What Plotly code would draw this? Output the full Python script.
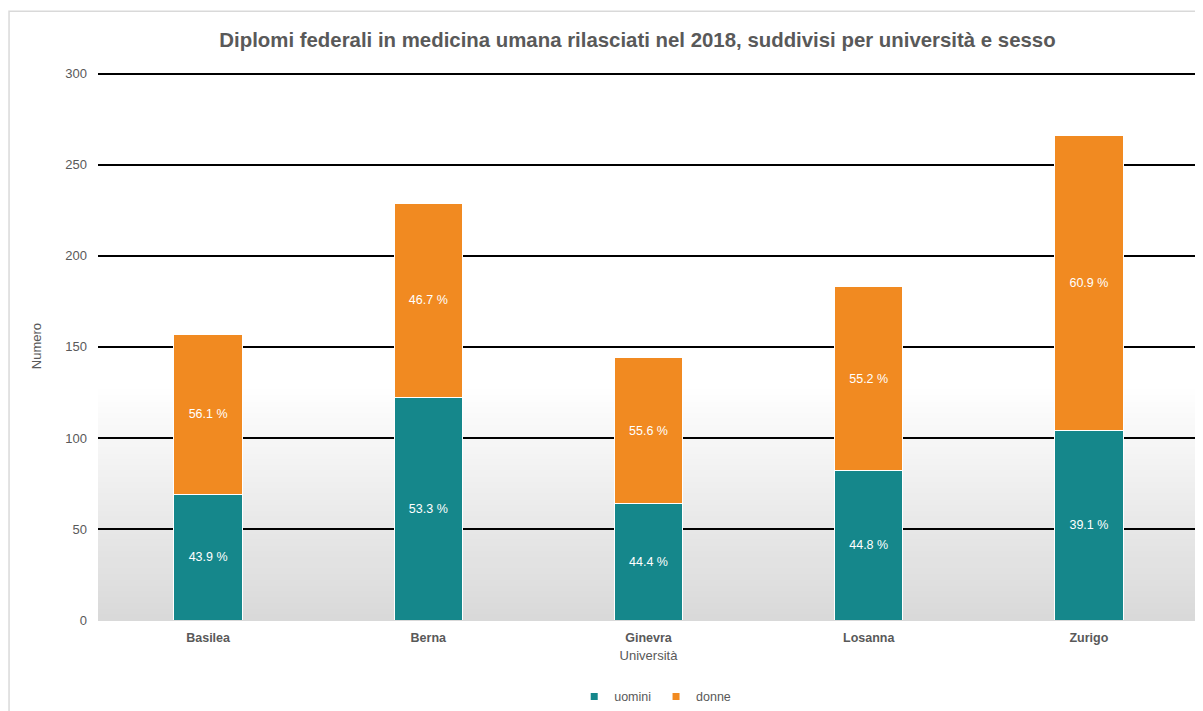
import plotly.graph_objects as go

universita = ["Basilea", "Berna", "Ginevra", "Losanna", "Zurigo"]
uomini = [69, 122, 64, 82, 104]
donne = [88, 107, 80, 101, 162]
uomini_pct = ["43.9 %", "53.3 %", "44.4 %", "44.8 %", "39.1 %"]
donne_pct = ["56.1 %", "46.7 %", "55.6 %", "55.2 %", "60.9 %"]

grey = "#595959"
font = "Liberation Sans, Arial, sans-serif"
teal = "#15878b"
orange = "#f18a21"

fig = go.Figure()
fig.add_trace(go.Bar(
    x=universita, y=uomini, name="uomini", text=uomini_pct, showlegend=False,
    marker=dict(color=teal, line=dict(color="white", width=1)),
    textposition="inside", insidetextanchor="middle",
    textfont=dict(color="white", size=12.5, family=font),
))
fig.add_trace(go.Bar(
    x=universita, y=donne, name="donne", text=donne_pct, showlegend=False,
    marker=dict(color=orange, line=dict(color="white", width=1)),
    textposition="inside", insidetextanchor="middle",
    textfont=dict(color="white", size=12.5, family=font),
))
# small square legend keys
for name, col in [("uomini", teal), ("donne", orange)]:
    fig.add_trace(go.Scatter(x=[None], y=[None], mode="markers", name=name,
                             marker=dict(symbol="square", size=7, color=col)))

# background gradient in the lower part of the plot area
steps = 40
top = 0.42
for i in range(steps):
    f = i / steps
    v = int(round(217 + (255 - 217) * f))
    fig.add_shape(type="rect", xref="x domain", yref="y domain",
                  x0=0, x1=1, y0=top * f, y1=top * (f + 1 / steps) + 0.002,
                  fillcolor=f"rgb({v},{v},{v})", line=dict(width=0), layer="below")

# outer frame
fig.add_shape(type="rect", xref="paper", yref="paper",
              x0=-0.0808, x1=1.1, y0=-0.3, y1=1.111,
              line=dict(color="#d9d9d9", width=1.5), fillcolor="rgba(0,0,0,0)")

fig.update_layout(
    barmode="stack",
    bargap=0.69,
    width=1203, height=711,
    margin=dict(l=90, r=12, t=64, b=99, autoexpand=False),
    paper_bgcolor="white", plot_bgcolor="white",
    font=dict(family=font, color=grey, size=12),
    title=dict(text="<b>Diplomi federali in medicina umana rilasciati nel 2018, suddivisi per università e sesso</b>",
               xref="paper", x=0.49, xanchor="center", yref="container", y=0.955, yanchor="middle",
               font=dict(size=20.4, color=grey, family=font)),
    legend=dict(orientation="h", xref="container", x=0.538, xanchor="center",
                yref="container", y=0.031, yanchor="middle",
                font=dict(size=12.5, color=grey), itemwidth=30, traceorder="normal"),
    xaxis=dict(title=dict(text="Università", font=dict(size=13, color=grey), standoff=7),
               tickfont=dict(size=12.5, color=grey, family="Liberation Sans"),
               tickprefix="<b>", ticksuffix="</b>", showline=False, ticks="",
               ticklabelstandoff=8, automargin=False),
    yaxis=dict(title=dict(text="Numero", font=dict(size=13, color=grey), standoff=20),
               range=[0, 301], tickvals=[0, 50, 100, 150, 200, 250, 300],
               gridcolor="black", gridwidth=1.5,
               zeroline=True, zerolinecolor="#d9d9d9", zerolinewidth=1.5,
               tickfont=dict(size=13, color=grey), ticks="", ticklabelstandoff=10, automargin=False),
)

fig.write_html("out.html")
